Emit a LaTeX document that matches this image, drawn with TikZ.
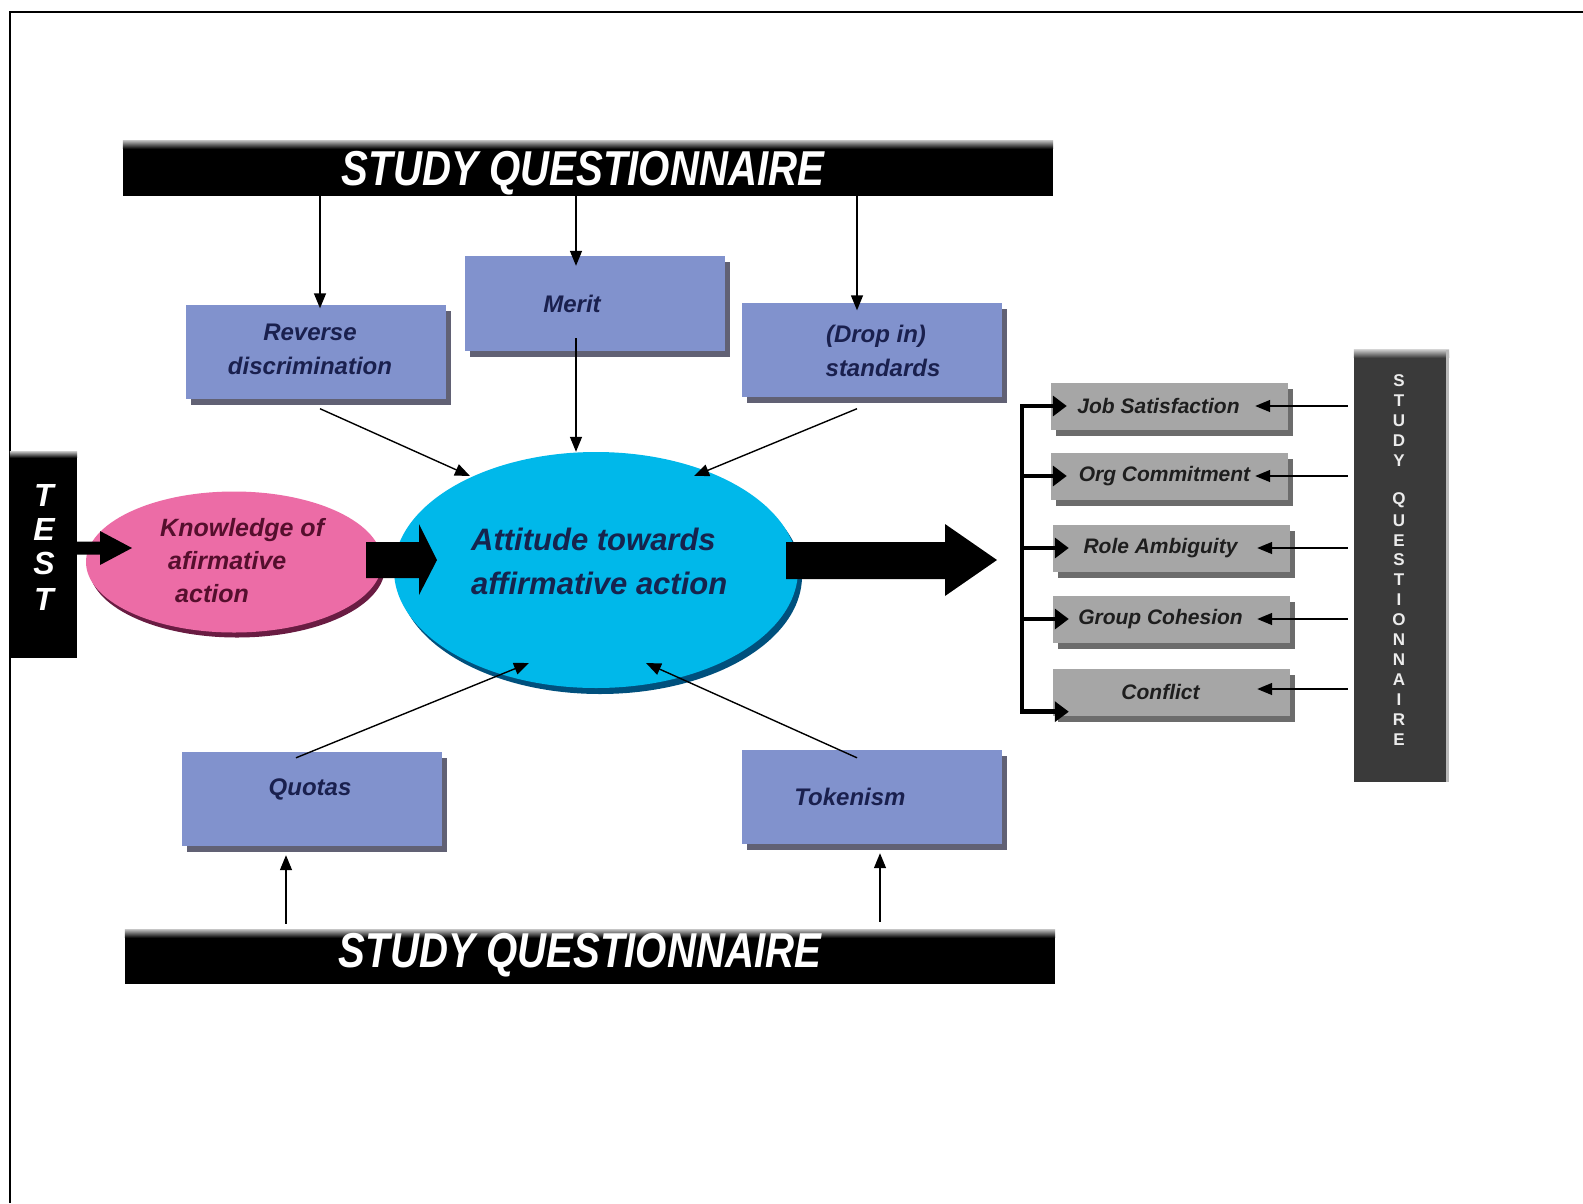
\documentclass[tikz,border=0pt]{standalone}
\usepackage{fontspec}
\usepackage{graphicx}
\setmainfont{Liberation Sans}
\usetikzlibrary{arrows.meta,shadows,shapes.geometric,calc}
\definecolor{boxblue}{RGB}{129,146,205}
\definecolor{navytext}{RGB}{26,32,78}
\definecolor{shadowc}{RGB}{45,45,70}
\definecolor{cyanfill}{RGB}{0,184,234}
\definecolor{cyanrim}{RGB}{0,80,125}
\definecolor{cyantext}{RGB}{22,36,78}
\definecolor{pinkfill}{RGB}{236,108,166}
\definecolor{pinkrim}{RGB}{105,28,66}
\definecolor{pinktext}{RGB}{85,15,45}
\definecolor{grayfill}{RGB}{166,166,166}
\definecolor{grayshadow}{RGB}{60,60,60}
\definecolor{textdark}{RGB}{30,30,30}
\definecolor{barright}{RGB}{58,58,58}
\tikzset{
  tarrow/.style={line width=1.4pt, -{Triangle[length=15pt,width=12pt]}},
  thickarr/.style={line width=4.5pt, -{Triangle[length=14pt,width=20pt]}},
  bluebox/.style={rectangle, fill=boxblue, minimum width=260pt, minimum height=94pt, inner sep=0pt,
    drop shadow={shadow xshift=5pt, shadow yshift=-6pt, fill=shadowc, opacity=0.75}},
  graybox/.style={rectangle, fill=grayfill, minimum width=237pt, minimum height=47pt, inner sep=0pt,
    drop shadow={shadow xshift=5pt, shadow yshift=-6pt, fill=grayshadow, opacity=0.75},
    font=\fontsize{21}{25}\selectfont\bfseries\itshape, text=textdark,
    execute at end node={\hspace{22pt}}},
  boxlabel/.style={font=\fontsize{24}{34}\selectfont\bfseries\itshape, text=navytext, align=center, inner sep=0pt},
  barbox/.style={rectangle, fill=black, inner sep=0pt},
  bartext/.style={text=white, font=\fontsize{49}{55}\selectfont\bfseries\itshape, inner sep=0pt},
  testletter/.style={text=white, font=\fontsize{32}{36}\selectfont\bfseries\itshape, inner sep=0pt},
  qletter/.style={text=white!92!black, font=\fontsize{17}{20}\selectfont\bfseries, inner sep=0pt},
}
\begin{document}
\begin{tikzpicture}[x=1pt,y=-1pt]
\useasboundingbox (0,0) rectangle (1583,1203);
\fill[white] (0,0) rectangle (1583,1203);
\draw[line width=2.2pt] (10,1203) -- (10,12) -- (1583,12);

% ---- bars
\node[barbox, minimum width=930pt, minimum height=55pt] (topbar) at (588,168.5) {};
\shade[top color=gray!60, bottom color=black] (topbar.north west) rectangle ($(topbar.north east)+(0,8)$);
\node[bartext] (topbarT) at (583,173) {\scalebox{0.82}[1]{STUDY QUESTIONNAIRE}};

\node[barbox, minimum width=930pt, minimum height=54pt] (botbar) at (590,957) {};
\shade[top color=gray!60, bottom color=black] (botbar.north west) rectangle ($(botbar.north east)+(0,8)$);
\node[bartext] (botbarT) at (580,955) {\scalebox{0.82}[1]{STUDY QUESTIONNAIRE}};

\node[barbox, minimum width=67pt, minimum height=206pt] (testbar) at (43.5,555) {};
\shade[top color=gray!60, bottom color=black] (testbar.north west) rectangle ($(testbar.north east)+(0,6)$);
\foreach \l/\yy [count=\i] in {T/495,E/529,S/563,T/599}
  \node[testletter] (test\i) at (44,\yy) {\l};

\node[rectangle, fill=barright, inner sep=0pt, minimum width=95pt, minimum height=432pt] (qbar) at (1401.5,566) {};
\shade[top color=gray!45, bottom color=barright] (qbar.north west) rectangle ($(qbar.north east)+(0,8)$);
\fill[gray!55] ($(qbar.north east)+(-3,0)$) rectangle (qbar.south east);
\foreach \l [count=\i from 0] in {S,T,U,D,Y}
  \node[qletter] (qa\i) at (1399,{381+19.9*\i}) {\l};
\foreach \l [count=\i from 6] in {Q,U,E,S,T,I,O,N,N,A,I,R,E}
  \node[qletter] (qb\i) at (1399,{381+19.9*\i}) {\l};

% ---- blue boxes
\node[bluebox] (rev) at (316,351.5) {};
\node[boxlabel] (revT) at (310,349) {Reverse\\discrimination};
\node[bluebox, minimum height=95pt] (merit) at (594.5,303.5) {};
\node[boxlabel] (meritT) at (572,304) {Merit};
\node[bluebox] (drop) at (871.5,349.5) {};
\node[boxlabel] (dropT) at (876,351) {(Drop in)\\\hspace*{14pt}standards};
\node[bluebox] (quotas) at (312,799) {};
\node[boxlabel] (quotasT) at (310,789) {Quotas};
\node[bluebox] (token) at (872,797) {};
\node[boxlabel] (tokenT) at (850,797) {Tokenism};

% ---- ellipses
\node[ellipse, fill=pinkfill, minimum width=296pt, minimum height=141pt, inner sep=0pt,
  drop shadow={shadow xshift=3pt, shadow yshift=-5pt, fill=pinkrim, opacity=1}] (know) at (234,562) {};
\node[anchor=west, align=left, inner sep=0pt, text=pinktext,
  font=\fontsize{25}{33}\selectfont\bfseries\itshape] (knowT) at (160,561)
  {Knowledge of\\\hspace*{8pt}afirmative\\\hspace*{15pt}action};

\node[ellipse, fill=cyanfill, minimum width=404pt, minimum height=236pt, inner sep=0pt,
  drop shadow={shadow xshift=4pt, shadow yshift=-6pt, fill=cyanrim, opacity=1}] (att) at (596,570) {};
\node[anchor=west, align=left, inner sep=0pt, text=cyantext,
  font=\fontsize{31}{44}\selectfont\bfseries\itshape] (attT) at (471,561)
  {Attitude towards\\affirmative action};

% ---- block arrows
\fill[black] (77,541.5) -- (100,541.5) -- (100,531) -- (132,548) -- (100,565) -- (100,554.5) -- (77,554.5) -- cycle;
\fill[black] (366,542) -- (419,542) -- (419,524) -- (437,560) -- (419,595) -- (419,578) -- (366,578) -- cycle;
\fill[black] (786,542) -- (945,542) -- (945,524) -- (997,560) -- (945,596) -- (945,579) -- (786,579) -- cycle;

% ---- top arrows
\coordinate (ax1) at (320,0);
\coordinate (ax2) at (576,0);
\coordinate (ax3) at (857,0);
\draw[tarrow] (ax1 |- topbar.south) -- ($(ax1 |- rev.north)+(0,4)$);
\draw[tarrow] (ax2 |- topbar.south) -- ($(ax2 |- merit.north)+(0,10)$);
\draw[tarrow] (ax3 |- topbar.south) -- ($(ax3 |- drop.north)+(0,8)$);
\draw[tarrow] ($(ax2 |- merit.south)+(0,-13)$) -- (ax2 |- att.north);
\draw[tarrow] ($(rev.south)+(4,10)$) -- ($(att.center)+(-126,-94)$);
\draw[tarrow] ($(drop.south)+(-14.5,12)$) -- ($(att.center)+(98,-94)$);

% ---- bottom arrows
\draw[tarrow] ($(quotas.north)+(-16,6)$) -- ($(att.center)+(-67,93)$);
\draw[tarrow] ($(token.north)+(-15,8)$) -- ($(att.center)+(50,93)$);
\draw[tarrow] ($(botbar.north -| quotas.south)+(-26,-6)$) -- ($(quotas.south)+(-26,9)$);
\draw[tarrow] ($(botbar.north -| token.south)+(8,-8)$) -- ($(token.south)+(8,9)$);

% ---- outcome boxes
\node[graybox] (js) at (1169.5,406) {Job Satisfaction};
\node[graybox] (oc) at (1169.5,476) {\hspace{12pt}Org Commitment};
\node[graybox] (ra) at (1171.5,548) {Role Ambiguity};
\node[graybox] (gc) at (1171.5,619) {Group Cohesion};
\node[graybox] (cf) at (1171.5,692) {Conflict};

% ---- bracket
\coordinate (bx) at (1022,0);
\draw[line width=4.5pt, line cap=rect] (bx |- js.west) -- ($(bx |- cf.south)+(0,-4)$);
\foreach \n in {js,oc,ra,gc}
  \draw[thickarr] (bx |- \n.west) -- ($(\n.west)+(16,0)$);
\draw[thickarr] ($(bx |- cf.south)+(0,-4)$) -- ($(cf.south west)+(16,-4)$);

% ---- questionnaire arrows
\foreach \n in {js,oc,ra,gc}
  \draw[tarrow] ($(qbar.west |- \n.east)+(-6,0)$) -- ($(\n.east)+(-33,0)$);
\draw[tarrow] ($(qbar.west |- cf.east)+(-6,-3)$) -- ($(cf.east)+(-33,-3)$);
\end{tikzpicture}
\end{document}
